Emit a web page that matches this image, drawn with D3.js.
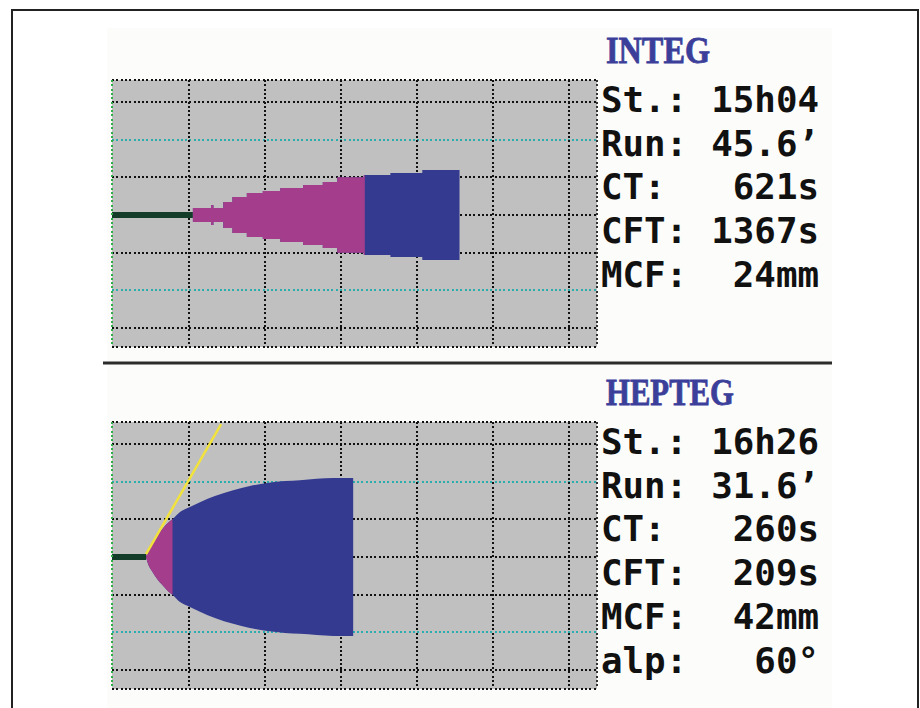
<!DOCTYPE html>
<html>
<head>
<meta charset="utf-8">
<script src="https://cdn.jsdelivr.net/npm/d3@7"></script>
<style>
  body { margin: 0; background: #fff; }
  svg { display: block; }
</style>
</head>
<body>
<script>
// trace: time in minutes, amplitude in mm (full width of the clot trace)
const integTime = [10.5, 12.9, 13.2, 14.5, 15.7, 17.6, 19.7, 22.0, 25.0, 27.6, 29.5, 33.0, 36.5, 40.7, 45.6]
const integAmp = [3.7, 5.3, 3.7, 6.9, 9.5, 11.7, 12.7, 14.3, 15.9, 17.5, 20.0, 21.2, 22.3, 23.9, 23.9]

const heptegTime = [4.33, 4.6, 5.1, 5.8, 6.6, 7.2, 7.8, 8.8, 10.1, 11.5, 13.4, 15.8, 18.0, 20.3, 22.6, 24.6, 29.0, 31.6]
const heptegAmp = [0, 3.7, 7.4, 11.7, 15.4, 18.0, 20.0, 23.9, 26.5, 29.2, 32.4, 35.5, 37.7, 39.3, 40.3, 40.8, 41.9, 42.0]

const panelNames = ["INTEG", "HEPTEG"]
const integLabels = ["St.:", "Run:", "CT:", "CFT:", "MCF:"]
const integValues = ["15h04", "45.6\u2019", "621s", "1367s", "24mm"]
const heptegLabels = ["St.:", "Run:", "CT:", "CFT:", "MCF:", "alp:"]
const heptegValues = ["16h26", "31.6\u2019", "260s", "209s", "42mm", "60\u00b0"]

const ctSec = [621, 260]
const cftSec = [1367, 209]
const alphaDeg = [null, 60]

const timeTicks = [10, 20, 30, 40, 50, 60]
const ampTicks = [0, 20, 40, 60]   // full amplitude, drawn at +/- half
const cyanAmp = 40

const W = 920, H = 708
const svg = d3.select("body").append("svg")
    .attr("width", W)
    .attr("height", H)

svg.append("rect").attr("width", W).attr("height", H).attr("fill", "#fff")
svg.append("rect")
    .attr("x", 107).attr("y", 28).attr("width", 725).attr("height", 680)
    .attr("fill", "#fcfcfa")
svg.append("rect")
    .attr("x", 12).attr("y", 10).attr("width", 906).attr("height", 730)
    .attr("fill", "none").attr("stroke", "#222").attr("stroke-width", 2)

// separator between the two channels
svg.append("line")
    .attr("x1", 103).attr("x2", 832).attr("y1", 363).attr("y2", 363)
    .attr("stroke", "#2b2b2b").attr("stroke-width", 3)

const x = d3.scaleLinear().domain([-0.15, 63.7]).range([112, 597])

const dots = "2 2.3"
const dotW = 2
const px = v => Math.round(v)

function drawPanel(i, top, times, amps, curve, labels, values, headerLen) {
    const y = d3.scaleLinear().domain([-35.04, 35.84]).range([top + 267, top])
    const g = svg.append("g")
    const [x0, x1] = x.range()
    const [yb, yt] = y.range()

    g.append("rect")
        .attr("x", x0).attr("y", yt).attr("width", x1 - x0).attr("height", yb - yt)
        .attr("fill", "#c0c0c0")

    const grid = g.append("g").attr("shape-rendering", "crispEdges")

    // horizontal grid
    const hLines = ampTicks.flatMap(a => a === 0 ? [0] : [a / 2, -a / 2])
    grid.append("g").selectAll("line")
        .data(hLines)
        .join("line")
        .attr("x1", x0).attr("x2", x1)
        .attr("y1", d => px(y(d))).attr("y2", d => px(y(d)))
        .attr("stroke", d => Math.abs(d) * 2 === cyanAmp ? "#2aadad" : "#111")
        .attr("stroke-width", dotW)
        .attr("stroke-dasharray", dots)

    grid.append("g").selectAll("line")
        .data(timeTicks)
        .join("line")
        .attr("x1", d => px(x(d))).attr("x2", d => px(x(d)))
        .attr("y1", yt).attr("y2", yb)
        .attr("stroke", "#111")
        .attr("stroke-width", dotW)
        .attr("stroke-dasharray", dots)

    const data = times.map((t, k) => ({t, a: amps[k]}))
    const ct = ctSec[i] / 60
    const cftEnd = (ctSec[i] + cftSec[i]) / 60

    // flat line before clotting starts
    g.append("line")
        .attr("x1", x0).attr("x2", x(times[0]))
        .attr("y1", y(0)).attr("y2", y(0))
        .attr("stroke", "#133d29").attr("stroke-width", 6)

    const area = d3.area()
        .x(d => x(d.t))
        .y0(d => y(-d.a / 2))
        .y1(d => y(d.a / 2))
        .curve(curve)

    const clipId = "cft" + i
    svg.append("clipPath").attr("id", clipId)
        .append("rect")
        .attr("x", x0).attr("y", yt).attr("width", x(cftEnd) - x0).attr("height", yb - yt)

    g.append("path").datum(data).attr("d", area).attr("fill", "#333a90")
    g.append("path").datum(data).attr("d", area).attr("fill", "#a43e8c")
        .attr("clip-path", `url(#${clipId})`)

    if (alphaDeg[i] != null) {
        const sx = x(ct), sy = y(0) - 3
        const ey = yt + 2
        const ex = sx + (sy - ey) / Math.tan(alphaDeg[i] * Math.PI / 180)
        g.append("line")
            .attr("x1", sx).attr("y1", sy).attr("x2", ex).attr("y2", ey)
            .attr("stroke", "#f2e23c").attr("stroke-width", 2.5)
    }

    // frame edges
    const edges = g.append("g").attr("shape-rendering", "crispEdges")
        .attr("stroke-width", dotW).attr("stroke-dasharray", dots)
    edges.append("line").attr("x1", x0).attr("x2", x1).attr("y1", yt).attr("y2", yt)
        .attr("stroke", "#111")
    edges.append("line").attr("x1", x0).attr("x2", x1).attr("y1", yb).attr("y2", yb)
        .attr("stroke", "#111")
    edges.append("line").attr("x1", x1).attr("x2", x1).attr("y1", yt).attr("y2", yb)
        .attr("stroke", "#333")
    edges.append("line").attr("x1", x0).attr("x2", x0).attr("y1", yt).attr("y2", yb)
        .attr("stroke", "#2fae4a")

    // channel name and results
    svg.append("text")
        .attr("x", 606).attr("y", top - 17)
        .attr("font-family", "Liberation Serif")
        .attr("font-weight", "bold")
        .attr("font-size", 37)
        .attr("fill", "#3b3f9a")
        .attr("stroke", "#3b3f9a")
        .attr("stroke-width", 0.8)
        .attr("textLength", headerLen)
        .attr("lengthAdjust", "spacingAndGlyphs")
        .text(panelNames[i])

    const rows = svg.append("g")
        .attr("font-family", "DejaVu Sans Mono")
        .attr("font-weight", "bold")
        .attr("font-size", 35.8)
        .attr("fill", "#111")

    labels.forEach((lab, k) => {
        const yy = top + 32 + k * 43.7
        rows.append("text").attr("x", 601).attr("y", yy).text(lab)
        rows.append("text").attr("x", 819).attr("y", yy)
            .attr("text-anchor", "end").text(values[k])
    })
}

drawPanel(0, 80, integTime, integAmp, d3.curveStepAfter, integLabels, integValues, 104)
drawPanel(1, 422, heptegTime, heptegAmp, d3.curveMonotoneX, heptegLabels, heptegValues, 128)
</script>
</body>
</html>
